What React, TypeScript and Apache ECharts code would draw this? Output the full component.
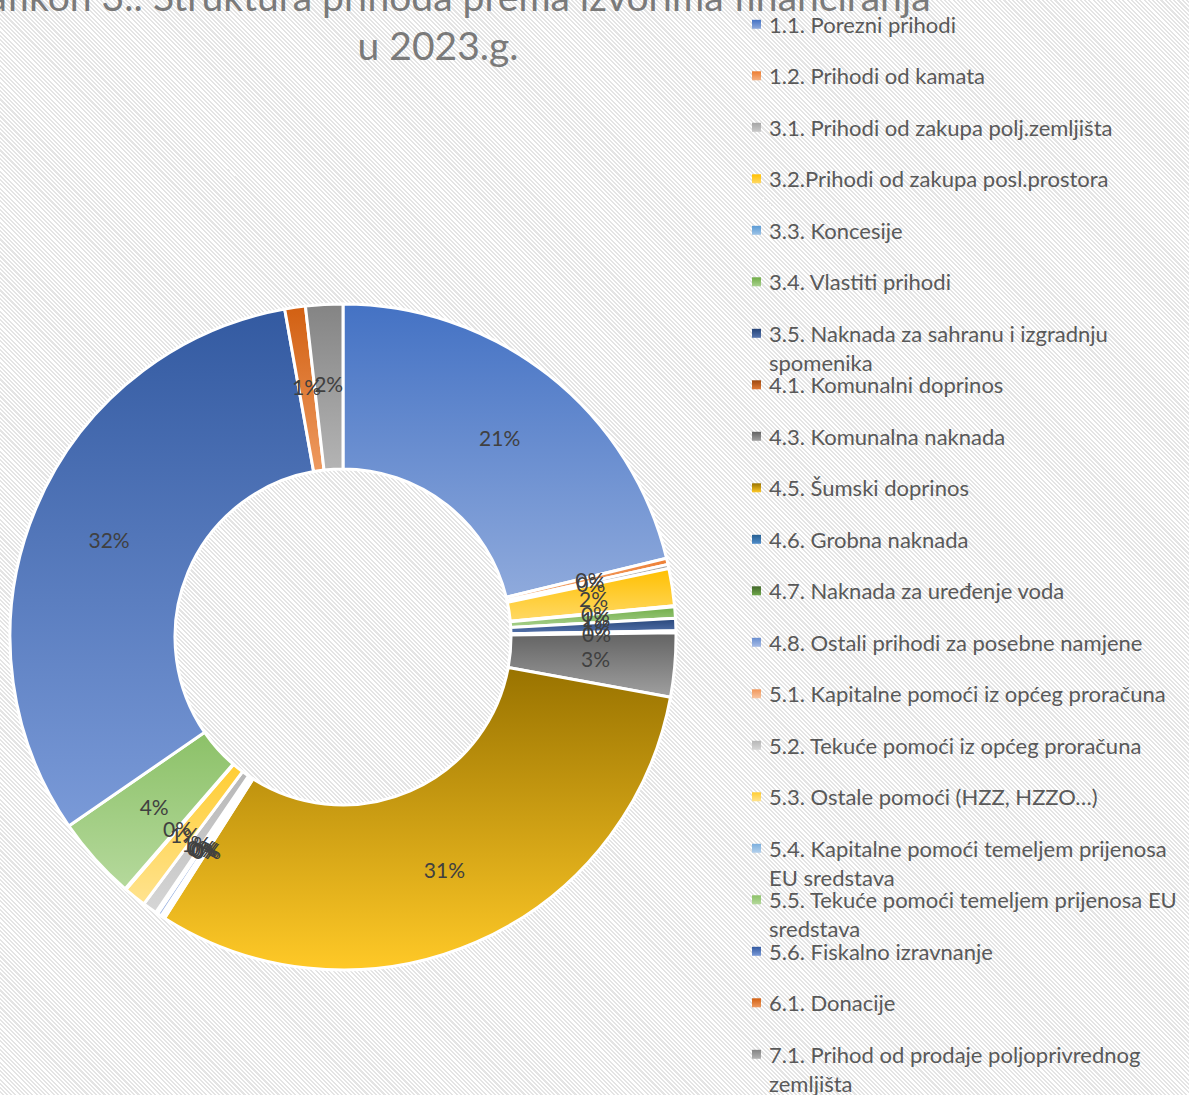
import React, { useEffect, useRef } from "react";
import * as echarts from "echarts";

const titleLines = [
  "Grafikon 3.: Struktura prihoda prema izvorima financiranja",
  "u 2023.g.",
];

const categories = [
  "1.1. Porezni prihodi",
  "1.2. Prihodi od kamata",
  "3.1. Prihodi od zakupa polj.zemljišta",
  "3.2.Prihodi od zakupa posl.prostora",
  "3.3. Koncesije",
  "3.4. Vlastiti prihodi",
  "3.5. Naknada za sahranu i izgradnju spomenika",
  "4.1. Komunalni doprinos",
  "4.3. Komunalna naknada",
  "4.5. Šumski doprinos",
  "4.6. Grobna naknada",
  "4.7. Naknada za uređenje voda",
  "4.8. Ostali prihodi za posebne namjene",
  "5.1. Kapitalne pomoći iz općeg proračuna",
  "5.2. Tekuće pomoći iz općeg proračuna",
  "5.3. Ostale pomoći (HZZ, HZZO…)",
  "5.4. Kapitalne pomoći temeljem prijenosa EU sredstava",
  "5.5. Tekuće pomoći temeljem prijenosa EU sredstava",
  "5.6. Fiskalno izravnanje",
  "6.1. Donacije",
  "7.1. Prihod od prodaje poljoprivrednog zemljišta",
];

// share of total revenue (%)
const shares = [
  21.2, 0.3, 0.2, 1.8, 0.05, 0.55, 0.6, 0.1, 3.1, 31.1, 0.1, 0.1, 0.2, 0.1,
  0.7, 1.1, 0.05, 4.05, 31.8, 1.0, 1.8,
];

// legend wrapping as in the picture
const legendWraps: Record<string, string[]> = {
  "3.5. Naknada za sahranu i izgradnju spomenika": [
    "3.5. Naknada za sahranu i izgradnju",
    "spomenika",
  ],
  "5.4. Kapitalne pomoći temeljem prijenosa EU sredstava": [
    "5.4. Kapitalne pomoći temeljem prijenosa",
    "EU sredstava",
  ],
  "5.5. Tekuće pomoći temeljem prijenosa EU sredstava": [
    "5.5. Tekuće pomoći temeljem prijenosa EU",
    "sredstava",
  ],
  "7.1. Prihod od prodaje poljoprivrednog zemljišta": [
    "7.1. Prihod od prodaje poljoprivrednog",
    "zemljišta",
  ],
};

const topColors = [
  "#4472C4", "#ED7D31", "#A5A5A5", "#FFC000", "#5B9BD5", "#70AD47", "#264478",
  "#9E480E", "#636363", "#997300", "#255E91", "#43682B", "#698ED0", "#F1975A",
  "#B7B7B7", "#FFCD33", "#7CAFDD", "#8CC168", "#335AA1", "#D26012", "#848484",
];
const bottomColors = [
  "#8FAADC", "#F4B183", "#C9C9C9", "#FFD966", "#9DC3E6", "#A9D18E", "#5675AE",
  "#E07B39", "#A0A0A0", "#FFC927", "#4F8CC9", "#6FA84B", "#A7BCE6", "#F8C5A2",
  "#D6D6D6", "#FFE38F", "#B3D0EC", "#B5D99C", "#7A9AD8", "#EE9A60", "#B4B4B4",
];

const FONT = "Lato, 'Open Sans', sans-serif";

const gradient = (i: number) =>
  new echarts.graphic.LinearGradient(0, 0, 0, 1, [
    { offset: 0, color: topColors[i] },
    { offset: 1, color: bottomColors[i] },
  ]);

export default function App() {
  const ref = useRef<HTMLDivElement>(null);

  useEffect(() => {
    if (!ref.current) return;
    const chart = echarts.init(ref.current, undefined, { renderer: "svg" });

    const data = categories.map((name, i) => ({
      name,
      value: shares[i],
      itemStyle: { color: gradient(i) },
    }));

    // legend drawn as graphic elements (keeps the fixed row pitch of the original)
    const legendTop = 24.3;
    const legendPitch = 51.5;
    const legendEls: any[] = [];
    categories.forEach((name, i) => {
      const yc = legendTop + i * legendPitch;
      legendEls.push({
        type: "rect",
        shape: { x: 752, y: yc - 4.5, width: 9, height: 9 },
        style: { fill: gradient(i) },
      });
      legendEls.push({
        type: "text",
        x: 769,
        y: yc - 14.5,
        style: {
          text: (legendWraps[name] ?? [name]).join("\n"),
          font: `22px ${FONT}`,
          lineHeight: 29,
          fill: "#595959",
          align: "left",
          verticalAlign: "top",
        },
      });
    });

    chart.setOption({
      animation: false,
      backgroundColor: "transparent",
      graphic: [
        {
          type: "text",
          x: 438,
          y: -4,
          style: {
            text: titleLines[0],
            font: `39px ${FONT}`,
            fill: "#7a7a7a",
            align: "center",
            verticalAlign: "middle",
          },
        },
        {
          type: "text",
          x: 438,
          y: 45,
          style: {
            text: titleLines[1],
            font: `39px ${FONT}`,
            fill: "#7a7a7a",
            align: "center",
            verticalAlign: "middle",
          },
        },
        ...legendEls,
      ],
      series: [
        {
          type: "pie",
          center: [343, 637],
          radius: [168, 333],
          startAngle: 90,
          clockwise: true,
          avoidLabelOverlap: false,
          data,
          itemStyle: { borderColor: "#ffffff", borderWidth: 3 },
          label: {
            show: true,
            position: "inside",
            formatter: (p: any) => `${Math.round(p.percent)}%`,
            color: "#404040",
            fontFamily: FONT,
            fontSize: 21,
          },
          labelLayout: { hideOverlap: false },
          labelLine: { show: false },
          emphasis: { disabled: true },
        },
      ],
    });

    return () => {
      chart.dispose();
    };
  }, []);

  return (
    <div
      ref={ref}
      style={{
        position: "fixed",
        left: 0,
        top: 0,
        width: 1189,
        height: 1095,
        background:
          "repeating-linear-gradient(45deg, #ffffff 0px, #ffffff 1.5px, #e4e4e4 1.5px, #e4e4e4 3px)",
      }}
    />
  );
}
